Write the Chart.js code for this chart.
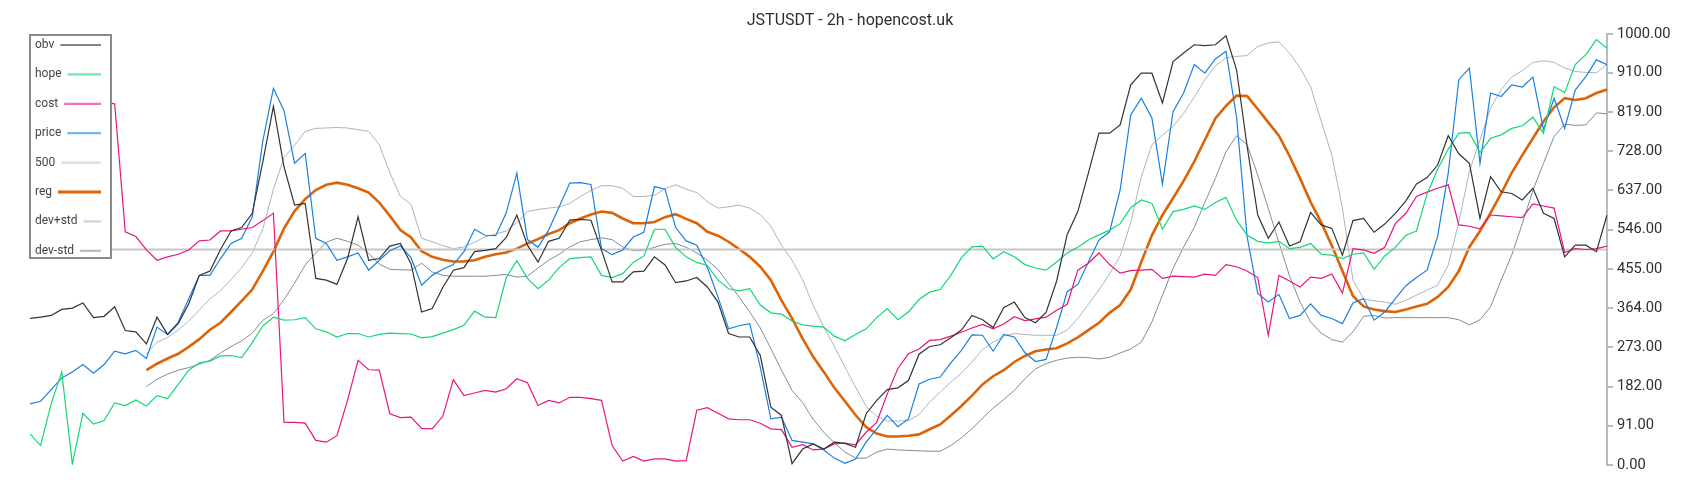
<!DOCTYPE html>
<html lang="en">
<head>
    <meta charset="UTF-8">
    <title>JSTUSDT - 2h - hopencost.uk</title>

    <!--  Chart.js  -->
    <script src="https://cdn.jsdelivr.net/npm/chart.js@4.4.1/dist/chart.umd.min.js"></script>

    <style>
        html, body { margin: 0; padding: 0; background: #fff; }
        #hopeChart { display: block; }
    </style>
</head>
<body>
    <canvas id="hopeChart" width="1700" height="500"></canvas>

    <script>
        // ***********
        // Series (index = bar number)
        // ***********
        var obv = [340, 343, 347, 361, 364, 376, 342, 345, 367, 312,
                   309, 281, 343, 303, 328, 374, 440, 450, 500, 543,
                   551, 584, 704, 832, 692, 603, 607, 433, 429, 419,
                   479, 576, 475, 479, 508, 514, 467, 355, 363, 412,
                   452, 458, 495, 498, 502, 528, 580, 510, 471, 519,
                   526, 568, 570, 568, 498, 425, 425, 448, 450, 483,
                   464, 423, 427, 435, 413, 378, 305, 297, 297, 254,
                   134, 115, 3, 37, 49, 37, 53, 50, 41, 119,
                   150, 175, 179, 196, 257, 275, 279, 295, 313, 347,
                   337, 319, 365, 378, 342, 330, 354, 427, 535, 588,
                   677, 770, 770, 789, 882, 909, 909, 840, 936, 956,
                   975, 973, 975, 996, 917, 739, 580, 526, 564, 508,
                   518, 586, 557, 549, 487, 567, 572, 540, 559, 584,
                   613, 652, 667, 696, 764, 722, 700, 572, 669, 634,
                   630, 615, 642, 584, 572, 483, 510, 510, 495, 580];

        var hope = [72, 45, 142, 216, 2, 120, 95, 103, 144, 138,
                    151, 137, 161, 154, 187, 220, 237, 241, 253, 254,
                    249, 284, 323, 343, 336, 337, 342, 316, 309, 297,
                    305, 305, 297, 303, 306, 305, 304, 295, 298, 306,
                    314, 324, 357, 343, 342, 435, 474, 433, 409, 429,
                    458, 479, 481, 483, 440, 435, 444, 470, 485, 547,
                    547, 505, 483, 470, 463, 429, 409, 404, 409, 371,
                    353, 350, 334, 325, 322, 320, 299, 288, 303, 316,
                    342, 363, 337, 355, 384, 401, 407, 440, 481, 506,
                    508, 478, 495, 483, 465, 457, 452, 471, 492, 505,
                    522, 534, 545, 560, 597, 615, 607, 547, 588, 593,
                    601, 593, 609, 621, 568, 533, 519, 515, 519, 502,
                    505, 514, 489, 487, 479, 489, 492, 454, 485, 505,
                    533, 543, 629, 686, 733, 770, 771, 725, 758, 766,
                    781, 787, 807, 770, 878, 864, 929, 952, 987, 967];

        var cost = [null, null, null, null, null, 1000, 880, 842, 838, 541,
                    530, 499, 475, 483, 489, 499, 520, 522, 543, 543,
                    547, 551, 567, 584, 99, 99, 97, 57, 53, 68,
                    150, 243, 221, 220, 119, 110, 111, 85, 84, 113,
                    198, 161, 167, 173, 169, 177, 200, 191, 138, 150,
                    144, 157, 157, 154, 150, 45, 9, 20, 9, 14,
                    14, 9, 10, 127, 133, 120, 107, 105, 105, 97,
                    84, 82, 41, 47, 35, 37, 49, 51, 47, 76,
                    99, 165, 224, 258, 269, 289, 291, 299, 308, 318,
                    326, 316, 327, 344, 335, 339, 343, 359, 373, 452,
                    468, 492, 465, 445, 451, 452, 454, 433, 438, 437,
                    436, 443, 440, 465, 460, 450, 435, 301, 440, 427,
                    413, 436, 433, 443, 399, 502, 499, 491, 505, 560,
                    584, 623, 633, 642, 650, 557, 554, 548, 580, 578,
                    576, 574, 606, 601, 596, 493, 502, 500, 502, 508];

        var price = [142, 148, 175, 202, 216, 233, 213, 233, 264, 258,
                     266, 247, 320, 303, 331, 386, 440, 440, 479, 514,
                     526, 576, 752, 874, 822, 700, 723, 526, 514, 475,
                     483, 492, 452, 475, 497, 508, 481, 417, 440, 454,
                     465, 495, 547, 533, 532, 585, 677, 523, 505, 545,
                     599, 654, 655, 651, 502, 488, 499, 529, 540, 646,
                     640, 551, 520, 510, 458, 390, 316, 323, 328, 227,
                     107, 111, 57, 53, 49, 35, 16, 4, 14, 53,
                     84, 115, 89, 107, 188, 199, 204, 237, 266, 302,
                     301, 264, 303, 297, 261, 240, 245, 319, 402, 419,
                     471, 522, 541, 638, 812, 851, 805, 652, 820, 863,
                     929, 909, 942, 960, 807, 529, 398, 378, 396, 340,
                     347, 374, 347, 340, 328, 376, 386, 336, 355, 386,
                     416, 435, 452, 531, 677, 894, 921, 700, 863, 855,
                     882, 877, 900, 778, 851, 781, 870, 901, 940, 929];

        var reg = [null, null, null, null, null, null, null, null, null, null,
                   null, 220, 235, 247, 258, 274, 292, 314, 330, 355,
                   381, 407, 450, 495, 549, 589, 617, 638, 650, 655,
                   650, 642, 632, 609, 578, 545, 528, 496, 483, 476,
                   472, 472, 475, 483, 489, 493, 502, 514, 524, 536,
                   545, 561, 572, 581, 588, 585, 572, 561, 561, 564,
                   575, 582, 571, 561, 541, 532, 518, 501, 483, 460,
                   429, 382, 340, 293, 251, 216, 179, 148, 116, 88,
                   73, 66, 66, 68, 71, 83, 94, 115, 137, 161,
                   187, 206, 220, 239, 253, 264, 268, 271, 282, 296,
                   313, 330, 353, 371, 407, 471, 533, 580, 619, 659,
                   704, 754, 804, 833, 857, 856, 826, 795, 764, 717,
                   665, 610, 563, 509, 450, 392, 368, 361, 357, 355,
                   361, 368, 374, 390, 413, 450, 506, 543, 585, 630,
                   678, 719, 758, 797, 830, 851, 847, 851, 863, 871];

        var devPlus = [null, null, null, null, null, null, null, null, null, null,
                       null, 258, 285, 296, 313, 334, 360, 385, 405, 430,
                       458, 492, 548, 640, 713, 742, 774, 781, 782, 783,
                       782, 778, 774, 743, 678, 623, 605, 526, 518, 509,
                       502, 506, 517, 529, 536, 543, 562, 588, 593, 596,
                       599, 607, 623, 637, 648, 648, 642, 623, 623, 626,
                       641, 650, 640, 632, 611, 596, 599, 603, 596, 581,
                       554, 510, 475, 430, 370, 320, 275, 227, 181, 136,
                       113, 102, 102, 103, 117, 146, 169, 192, 213, 239,
                       268, 285, 299, 305, 303, 301, 301, 301, 313, 340,
                       373, 406, 443, 485, 562, 669, 743, 766, 785, 816,
                       853, 894, 926, 945, 948, 950, 971, 979, 982, 956,
                       921, 878, 797, 719, 596, 429, 385, 381, 378, 373,
                       382, 394, 406, 417, 464, 564, 681, 754, 828, 871,
                       900, 915, 934, 938, 934, 921, 913, 911, 910, 929];

        var devMinus = [null, null, null, null, null, null, null, null, null, null,
                        null, 182, 199, 211, 220, 226, 234, 243, 260, 275,
                        288, 306, 336, 351, 384, 422, 464, 492, 517, 526,
                        519, 510, 491, 466, 454, 453, 452, 468, 448, 440,
                        438, 438, 438, 438, 440, 442, 436, 438, 457, 475,
                        489, 506, 518, 523, 527, 523, 506, 497, 498, 505,
                        512, 514, 505, 492, 475, 454, 421, 390, 355, 318,
                        270, 220, 173, 145, 106, 76, 51, 30, 16, 16,
                        30, 37, 35, 34, 33, 32, 32, 45, 63, 84,
                        109, 132, 152, 173, 200, 223, 235, 243, 248, 250,
                        249, 246, 250, 260, 269, 285, 332, 394, 456, 506,
                        551, 609, 665, 727, 764, 743, 673, 595, 516, 439,
                        378, 332, 306, 291, 285, 309, 345, 347, 341, 342,
                        342, 342, 342, 342, 342, 337, 325, 337, 367, 429,
                        487, 560, 637, 700, 762, 791, 788, 789, 817, 815];

        var level = 500;                                        // flat reference line
        var yTicks = [0, 91, 182, 273, 364, 455, 546, 637, 728, 819, 910, 1000];
        var bars = obv.map(function (_, i) { return i; });      // bar numbers for the x scale

        var chartTitle = 'JSTUSDT - 2h - hopencost.uk';


        // ****************
        // Title + boxed legend (label left, sample line right)
        // ****************
        var titleLegendPlugin = {
            id: 'titleLegend',
            afterDraw: function (chart) {
                var c = chart.ctx;
                c.save();

                // title
                c.fillStyle = '#2e2e2e';
                c.font = '16px Roboto, sans-serif';
                c.textAlign = 'center';
                c.textBaseline = 'middle';
                c.fillText(chartTitle, chart.width / 2, 21);

                // legend box
                var bx = 30, by = 35, bw = 81, bh = 223;
                c.fillStyle = '#fff';
                c.fillRect(bx, by, bw, bh);
                c.strokeStyle = '#8a8a8a';
                c.lineWidth = 2;
                c.strokeRect(bx, by, bw, bh);

                c.font = '12px Roboto, sans-serif';
                c.textAlign = 'left';
                chart.data.datasets.forEach(function (ds, k) {
                    var y = 45 + k * 29.4;
                    c.globalAlpha = 1;
                    c.fillStyle = '#444';
                    c.fillText(ds.label, 35, y);
                    var x0 = 35 + c.measureText(ds.label).width + 6;
                    c.globalAlpha = ds.label === 'reg' ? 1 : 0.6;
                    c.strokeStyle = ds.borderColor;
                    c.lineWidth = ds.label === 'reg' ? 3 : 2.2;
                    c.beginPath();
                    c.moveTo(x0, y);
                    c.lineTo(101, y);
                    c.stroke();
                });
                c.restore();
            }
        };


        // ******************
        // CALL MAIN FUNCTION
        // ******************
        Chart.defaults.font.family = 'Roboto, "Open Sans", sans-serif';
        buildHopeChart();


        // Build the line chart
        function buildHopeChart() {
            var ctx = document.getElementById('hopeChart');

            var datasets = [
                lineSet('obv', obv, '#333333', 1.2),
                lineSet('hope', hope, '#12d873', 1.2),
                lineSet('cost', cost, '#e8157f', 1.2),
                lineSet('price', price, '#1a80e0', 1.2),
                lineSet('500', [{x: bars[0], y: level}, {x: bars[bars.length - 1], y: level}], '#c6c6c6', 2),
                lineSet('reg', reg, '#dd6406', 2.6),
                lineSet('dev+std', devPlus, '#aab5c0', 1),
                lineSet('dev-std', devMinus, '#7f8d9a', 1)
            ];

            new Chart(ctx, {
                type: 'line',
                data: { labels: bars, datasets: datasets },
                options: {
                    responsive: false,
                    animation: false,
                    layout: { padding: { left: 30, top: 34, bottom: 35, right: 0 } },
                    plugins: {
                        legend: { display: false },
                        title: { display: false },
                        tooltip: { enabled: false }
                    },
                    scales: {
                        x: {
                            type: 'linear',
                            min: bars[0],
                            max: bars[bars.length - 1],
                            display: false
                        },
                        y: {
                            position: 'right',
                            min: 0,
                            max: 1000,
                            afterBuildTicks: function (scale) {
                                scale.ticks = yTicks.map(function (v) { return {value: v}; });
                            },
                            afterFit: function (scale) { scale.width = 93; },
                            grid: { drawOnChartArea: false, drawTicks: true, tickLength: 6, color: '#b3bbc3', lineWidth: 2 },
                            border: { display: true, color: '#b3bbc3', width: 2 },
                            ticks: {
                                padding: 4,
                                color: '#2e2e2e',
                                font: { size: 14.7 },
                                callback: function (v) { return Number(v).toFixed(2); }
                            }
                        }
                    }
                },
                plugins: [titleLegendPlugin]
            });
        } // END: buildHopeChart


        // Return a plain line dataset
        function lineSet(label, data, color, width) {
            return {
                label: label,
                data: data,
                borderColor: color,
                backgroundColor: color,
                borderWidth: width,
                pointRadius: 0,
                tension: 0,
                fill: false
            };
        } // END: lineSet
    </script>
</body>
</html>
